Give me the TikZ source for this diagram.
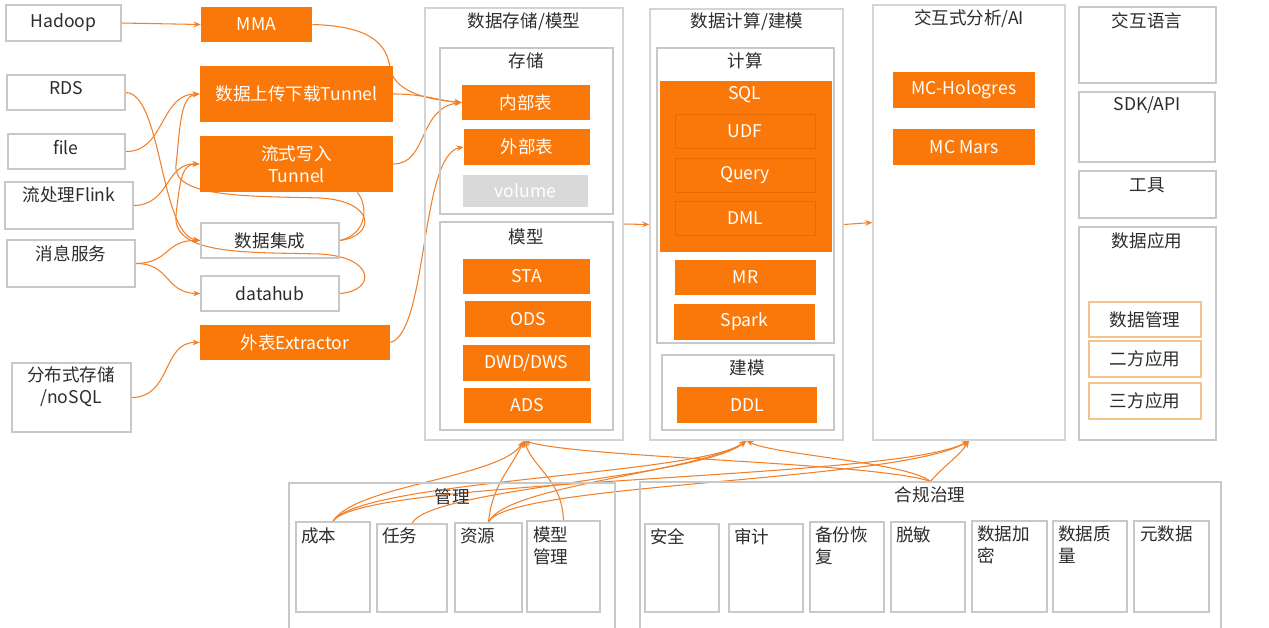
\documentclass[tikz,border=0pt]{standalone}
\usepackage{fontspec}
\setmainfont{Noto Sans CJK SC}
\usetikzlibrary{arrows.meta}
\definecolor{org}{RGB}{250,120,10}
\definecolor{orgline}{RGB}{242,128,40}
\definecolor{bord}{RGB}{200,200,200}
\definecolor{cbord}{RGB}{212,212,212}
\definecolor{txt}{RGB}{45,45,45}
\definecolor{volg}{RGB}{217,217,217}
\definecolor{appb}{RGB}{245,195,140}
\definecolor{sqlin}{RGB}{232,106,0}
\pgfdeclarelayer{bg}
\pgfsetlayers{bg,main}
\newcommand\bx[7]{%
  \pgfmathsetmacro\myW{(#4-#2)*0.02}%
  \pgfmathsetmacro\myH{(#5-#3)*0.02}%
  \node[#6, minimum width=\myW cm, minimum height=\myH cm] (#1) at ({(#2+#4)/2},{(#3+#5)/2}) {#7};}
\tikzset{
  fnt/.style={font=\fontsize{10}{12.5}\selectfont},
  wbox/.style={draw=bord, line width=0.8pt, inner sep=0pt, text=txt, fnt, align=center},
  cbox/.style={draw=cbord, line width=0.8pt, inner sep=0pt},
  obox/.style={fill=org, draw=none, inner sep=0pt, text=white, fnt, align=center},
  gbox/.style={fill=volg, draw=none, inner sep=0pt, text=white, fnt},
  ibox/.style={fill=org, draw=sqlin, line width=0.5pt, inner sep=0pt, text=white, fnt},
  abox/.style={draw=appb, line width=0.8pt, fill=white, inner sep=0pt, text=txt, fnt},
  ttl/.style={text=txt, fnt, inner sep=0pt},
  tl/.style={text=txt, fnt, inner sep=0pt, anchor=north west, align=left},
  conn/.style={draw=orgline, line width=0.6pt},
  arr/.style={-{Stealth[length=4pt,width=3.2pt]}}
}
\begin{document}
\begin{tikzpicture}[x=0.02cm,y=-0.02cm]
\useasboundingbox (0,0) rectangle (1269,627);
% sources
\bx{hadoop}{6}{5}{121}{41}{wbox}{Hadoop}
\bx{rds}{7}{75}{125}{110}{wbox}{}
\node[ttl] (t-rds) at (66,88) {RDS};
\bx{file}{8}{134}{125}{169}{wbox}{}
\node[ttl] (t-file) at (66,147) {file};
\bx{flink}{5}{182}{133}{229}{wbox}{}
\node[ttl] (t-flink) at (69,195) {流处理Flink};
\bx{msg}{7}{240}{135}{287}{wbox}{}
\node[ttl] (t-msg) at (71,254) {消息服务};
\bx{dist}{12}{363}{131}{432}{wbox}{}
\node[ttl, align=center] (t-dist) at (71,387) {分布式存储\\/noSQL};
% middle
\bx{mma}{201}{7}{312}{42}{obox}{MMA}
\bx{tun1}{200}{66}{393}{122}{obox}{数据上传下载Tunnel}
\bx{tun2}{200}{136}{393}{192}{obox}{流式写入\\Tunnel}
\bx{dj}{201}{223}{339}{258}{wbox}{数据集成}
\bx{dh}{201}{276}{339}{311}{wbox}{datahub}
\bx{ext}{200}{325}{390}{360}{obox}{外表Extractor}
% column storage/model
\bx{ds}{425}{8}{623}{440}{cbox}{}
\node[ttl] (t-ds) at (524,22) {数据存储/模型};
\bx{st}{440}{48}{613}{214}{wbox}{}
\node[ttl] (t-st) at (526,61) {存储};
\bx{nbb}{462}{85}{590}{120}{obox}{内部表}
\bx{wbb}{464}{129}{590}{165}{obox}{外部表}
\bx{vol}{463}{175}{588}{207}{gbox}{volume}
\bx{md}{440}{222}{613}{430}{wbox}{}
\node[ttl] (t-md) at (526,237) {模型};
\bx{sta}{463}{259}{590}{294}{obox}{STA}
\bx{ods}{465}{301}{591}{337}{obox}{ODS}
\bx{dwd}{463}{345}{590}{381}{obox}{DWD/DWS}
\bx{ads}{464}{388}{591}{423}{obox}{ADS}
% column compute/modeling
\bx{calc}{650}{9}{843}{440}{cbox}{}
\node[ttl] (t-calc) at (747,22) {数据计算/建模};
\bx{cp}{657}{48}{834}{343}{wbox}{}
\node[ttl] (t-cp) at (745,61) {计算};
\bx{sql}{660}{81}{832}{252}{obox}{}
\node[ttl, text=white] (t-sql) at (745,95) {SQL};
\bx{udf}{675}{114}{815}{148}{ibox}{UDF}
\bx{qry}{675}{158}{815}{192}{ibox}{Query}
\bx{dml}{675}{201}{815}{235}{ibox}{DML}
\bx{mr}{675}{260}{816}{295}{obox}{MR}
\bx{spark}{674}{304}{815}{340}{obox}{Spark}
\bx{jm}{662}{355}{834}{430}{wbox}{}
\node[ttl] (t-jm) at (747,368) {建模};
\bx{ddl}{677}{387}{817}{423}{obox}{DDL}
% column interactive
\bx{ai}{873}{5}{1065}{440}{cbox}{}
\node[ttl] (t-ai) at (969,19) {交互式分析/AI};
\bx{holo}{893}{72}{1035}{108}{obox}{MC-Hologres}
\bx{mars}{893}{129}{1035}{165}{obox}{MC Mars}
% right column
\bx{lang}{1079}{7}{1216}{83}{wbox}{}
\node[ttl] (t-lang) at (1147,21) {交互语言};
\bx{sdk}{1079}{92}{1215}{162}{wbox}{}
\node[ttl] (t-sdk) at (1147,105) {SDK/API};
\bx{tool}{1079}{171}{1216}{218}{wbox}{}
\node[ttl] (t-tool) at (1147,185) {工具};
\bx{app}{1079}{227}{1216}{440}{wbox}{}
\node[ttl] (t-app) at (1147,241) {数据应用};
\bx{dm}{1089}{302}{1201}{337}{abox}{数据管理}
\bx{ef}{1089}{341}{1201}{377}{abox}{二方应用}
\bx{sf}{1089}{383}{1201}{419}{abox}{三方应用}
% bottom: management
\bx{gl}{289}{483}{615}{650}{wbox}{}
\node[ttl] (t-gl) at (452,497) {管理};
\bx{cb}{296}{522}{370}{612}{wbox}{}
\node[tl] (t-cb) at (301,527) {成本};
\bx{rw}{377}{524}{447}{612}{wbox}{}
\node[tl] (t-rw) at (382,527) {任务};
\bx{zy}{455}{523}{522}{612}{wbox}{}
\node[tl] (t-zy) at (460,527) {资源};
\bx{mxg}{527}{521}{600}{612}{wbox}{}
\node[tl] (t-mxg) at (533,526) {模型\\管理};
% bottom: compliance
\bx{hg}{640}{482}{1221}{650}{wbox}{}
\node[ttl] (t-hg) at (930,495) {合规治理};
\bx{aq}{645}{524}{719}{612}{wbox}{}
\node[tl] (t-aq) at (650,528) {安全};
\bx{sj}{729}{524}{803}{612}{wbox}{}
\node[tl] (t-sj) at (734,528) {审计};
\bx{bf}{810}{522}{884}{612}{wbox}{}
\node[tl] (t-bf) at (815,526) {备份恢\\复};
\bx{tm}{891}{522}{965}{612}{wbox}{}
\node[tl] (t-tm) at (896,526) {脱敏};
\bx{jmi}{972}{521}{1047}{612}{wbox}{}
\node[tl] (t-jmi) at (977,525) {数据加\\密};
\bx{zl}{1053}{521}{1127}{612}{wbox}{}
\node[tl] (t-zl) at (1058,525) {数据质\\量};
\bx{ysj}{1134}{521}{1209}{612}{wbox}{}
\node[tl] (t-ysj) at (1140,525) {元数据};
% connectors
\begin{pgfonlayer}{bg}
\fill[white] (0,0) rectangle (1269,627);
\draw[conn,arr] (hadoop.east) -- (mma.west);
\draw[conn,arr] (mma.east) .. controls (372,26) and (387,45) .. (390,68) .. controls (395,95) and (435,100) .. (nbb.west);
\draw[conn,arr] (tun1.east) .. controls (425,94) and (440,101) .. (nbb.west);
\draw[conn,arr] (tun2.east) .. controls (428,164) and (418,108) .. (nbb.west);
\draw[conn,arr] (ext.east) .. controls (428,332) and (420,155) .. (wbb.west);
\draw[conn,arr] (rds.east) .. controls (162,93) and (160,235) .. (dj.west);
\draw[conn,arr] (file.east) .. controls (165,152) and (160,94) .. (tun1.west);
\draw[conn,arr] (flink.east) .. controls (170,205) and (165,163) .. (tun2.west);
\draw[conn,arr] (msg.east) .. controls (170,263) and (165,240) .. (dj.west);
\draw[conn,arr] (msg.east) .. controls (170,263) and (165,293) .. (dh.west);
\draw[conn,arr] (dist.east) .. controls (172,397) and (162,342) .. (ext.west);
\draw[conn,arr] (dj.east) .. controls (376,236) and (376,201) .. (320,198) .. controls (250,196) and (172,198) .. (176,165) .. controls (180,130) and (180,96) .. (tun1.west);
\draw[conn] (dj.east) .. controls (368,234) and (368,205) .. (tun2.-25);
\draw[conn,arr] (dh.east) .. controls (376,291) and (376,257) .. (320,254) .. controls (250,252) and (172,256) .. (176,215) .. controls (180,180) and (182,164) .. (tun2.west);
\draw[conn,arr] (ds.east) -- (calc.west);
\draw[conn,arr] (calc.east) -- (ai.west);
\draw[conn,arr] (cb.north) .. controls (355,485) and (500,478) .. (ds.south);
\draw[conn,arr] (cb.north) .. controls (360,480) and (700,475) .. (calc.south);
\draw[conn,arr] (cb.north) .. controls (360,478) and (900,480) .. (ai.south);
\draw[conn,arr] (rw.north) .. controls (430,488) and (700,478) .. (calc.south);
\draw[conn,arr] (zy.north) .. controls (492,485) and (510,470) .. (ds.south);
\draw[conn,arr] (zy.north) .. controls (505,485) and (700,472) .. (calc.south);
\draw[conn,arr] (zy.north) .. controls (505,483) and (900,482) .. (ai.south);
\draw[conn,arr] (mxg.north) .. controls (562,480) and (535,470) .. (ds.south);
\draw[conn,arr] (hg.north) .. controls (870,462) and (580,458) .. (ds.south);
\draw[conn,arr] (hg.north) .. controls (905,462) and (775,455) .. (calc.south);
\draw[conn,arr] (hg.north) .. controls (945,465) and (960,455) .. (ai.south);
\end{pgfonlayer}
\end{tikzpicture}
\end{document}
